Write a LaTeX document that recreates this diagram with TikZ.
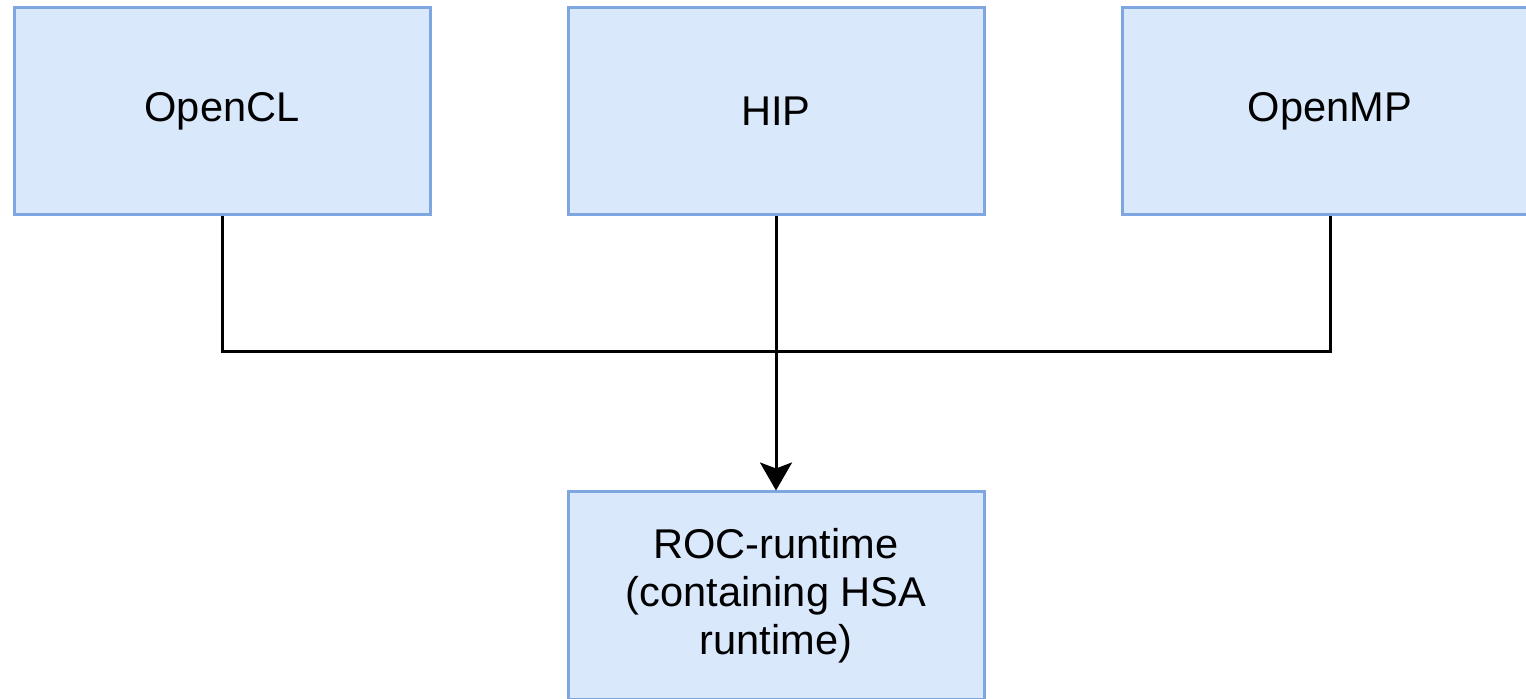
\documentclass[tikz,border=0pt]{standalone}
\usepackage{fontspec}
\setmainfont{Liberation Sans}
\usetikzlibrary{arrows.meta}
\definecolor{blockline}{RGB}{126,166,224}
\definecolor{blockfill}{RGB}{218,232,252}

\begin{document}
\begin{tikzpicture}[x=0.5pt,y=-0.5pt,
  block/.style={draw=blockline,fill=blockfill,line width=1.5pt,
    minimum width=208pt,minimum height=103.5pt,inner sep=0pt,
    font=\fontsize{20.8}{24}\selectfont,align=center},
  link/.style={line width=1.5pt}]
  \useasboundingbox (0,0) rectangle (1526,699);
  \clip (0,0) rectangle (1526,699);
  \node[block] (opencl) at (222,111.5) {OpenCL};
  \node[block] (hip) at (776,111.5) {HIP};
  \node[block] (openmp) at (1330,111.5) {OpenMP};
  \node[block] (roc) at (776,595.5) {ROC-runtime\\(containing HSA\\runtime)};
  \coordinate (join) at (776,352);
  \draw[link] (opencl.south) |- (join) -| (openmp.south);
  \draw[link,-{Stealth[length=14pt,width=16pt,inset=3pt]}] (hip.south) -- (roc.north);
\end{tikzpicture}
\end{document}
